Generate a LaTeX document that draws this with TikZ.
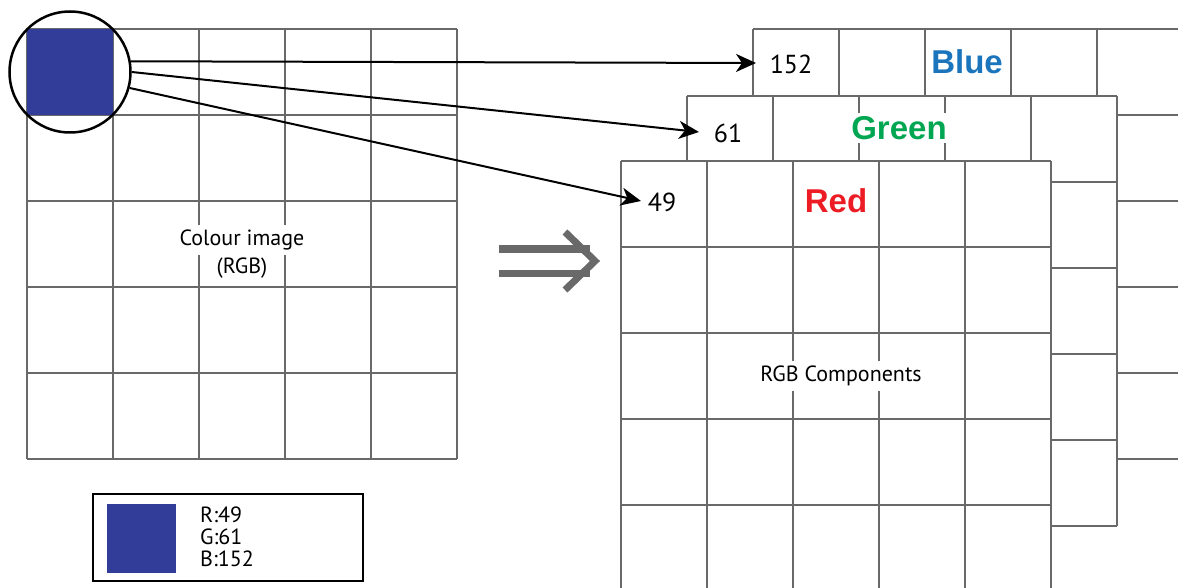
\documentclass[tikz,border=0pt]{standalone}
\usepackage{fontspec}
\setmainfont{PT Sans}
\newfontfamily\arialfont{Liberation Sans}
\usetikzlibrary{arrows.meta,positioning}

\definecolor{pixblue}{RGB}{49,61,152}
\definecolor{gridgray}{RGB}{105,105,105}
\definecolor{chanred}{RGB}{237,28,36}
\definecolor{changreen}{RGB}{0,166,81}
\definecolor{chanblue}{RGB}{27,117,188}

\begin{document}
\begin{tikzpicture}[x=1pt,y=-1pt,
gridline/.style={draw=gridgray,line width=2pt},
channel/.style={
	font=\arialfont\bfseries\fontsize{33}{33}\selectfont,
	fill=white,inner sep=3pt},
value/.style={font=\fontsize{26}{26}\selectfont,inner sep=0pt},
caption/.style={font=\fontsize{22}{22}\selectfont,inner sep=5pt},
link/.style={-{Stealth[length=20pt,width=18pt,inset=6pt]},line width=2pt}
]
\useasboundingbox (0,0) rectangle (1178,588);
\clip (0,0) rectangle (1178,588);

% blue channel (back)
\fill[white] (753,29) rectangle (1183,459);
\foreach \i in {0,...,5}{
\draw[gridline] (753+86*\i,29) -- (753+86*\i,459);
\draw[gridline] (753,29+86*\i) -- (1183,29+86*\i);}
\node[value] (vblue) at (791,64) {152};
\node[channel,text=chanblue] (nblue) at (967,62) {Blue};

% green channel (middle)
\fill[white] (687,96) rectangle (1117,526);
\foreach \i in {0,...,5}{
\draw[gridline] (687+86*\i,96) -- (687+86*\i,526);
\draw[gridline] (687,96+86*\i) -- (1117,96+86*\i);}
\node[value] (vgreen) at (728,133) {61};
\node[channel,text=changreen] (ngreen) at (899,128) {Green};

% red channel (front)
\fill[white] (621,161) rectangle (1051,600);
\foreach \i in {0,...,5}{
\draw[gridline] (621+86*\i,161) -- (621+86*\i,600);
\draw[gridline] (621,161+86*\i) -- (1051,161+86*\i);}
\node[value] (vred) at (662,202) {49};
\node[channel,text=chanred] (nred) at (836,201) {Red};
\node[caption,fill=white] (rgbcomp) at (841,376) {RGB Components};

% colour image
\foreach \i in {0,...,5}{
\draw[gridline] (27+86*\i,29) -- (27+86*\i,459);
\draw[gridline] (27,29+86*\i) -- (457,29+86*\i);}
\fill[pixblue] (27,29) rectangle (113,115);
\node[caption,fill=white] (cimg) at (242,240) {Colour image};
\node[caption,below=-3pt of cimg] (crgb) {(RGB)};
\node[circle,draw=black,line width=2.5pt,minimum size=121pt,inner sep=0pt] (lens) at (70,72) {};

% links to the first value of each channel
\coordinate (tipblue) at (756,63);
\coordinate (tipgreen) at (699,132);
\coordinate (tipred) at (641,201);
\draw[link] (lens.10) -- (tipblue);
\draw[link] (lens.0) -- (tipgreen);
\draw[link] (lens.-15) -- (tipred);

% implies sign
\draw[gridgray,line width=7pt] (499,249) -- (590,249) (499,273) -- (590,273);
\draw[gridgray,line width=7pt,miter limit=4] (565,232) -- (595,261) -- (565,290);

% legend
\node[draw=black,line width=2pt,minimum width=270pt,minimum height=87pt,inner sep=0pt] (legend) at (228,537.5) {};
\node[fill=pixblue,minimum size=69pt,inner sep=0pt] (swatch) at (141.5,538.5) {};
\node[anchor=west,align=left,inner sep=0pt,font=\fontsize{22}{22}\selectfont] (rgbvals) at (200,537) {R:49\\G:61\\B:152};
\end{tikzpicture}
\end{document}
